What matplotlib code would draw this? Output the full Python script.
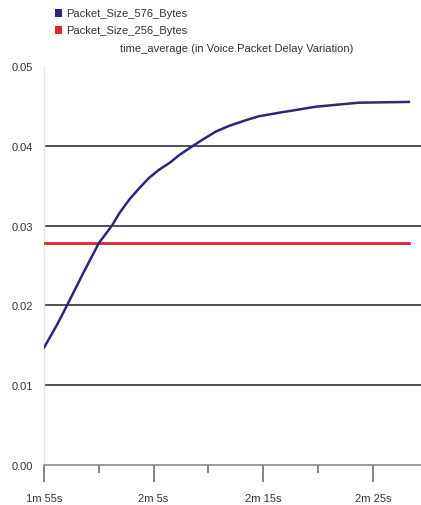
import matplotlib.pyplot as plt
from matplotlib.patches import Rectangle

# simulation time (s) and time-averaged packet delay variation
t_576 = [115.0, 116.2, 117.1, 118.6, 120.0, 121.2, 121.9, 122.8, 123.7, 124.6,
         125.5, 126.5, 127.4, 128.6, 129.5, 130.7, 131.9, 133.4, 134.6, 136.7,
         139.8, 143.7, 148.3]
pdv_576 = [0.0147, 0.0176, 0.0200, 0.0241, 0.0278, 0.0300, 0.0316, 0.0333, 0.0347, 0.0360,
           0.0370, 0.0379, 0.0389, 0.0400, 0.0408, 0.0418, 0.0425, 0.0432, 0.0437, 0.0442,
           0.0449, 0.0454, 0.0455]
t_256 = [115.0, 148.3]
pdv_256 = [0.0278, 0.0278]

series_names = ['Packet_Size_576_Bytes', 'Packet_Size_256_Bytes']
series_colors = ['#2b2878', '#e0262a']
stat_title = 'time_average (in Voice.Packet Delay Variation)'

x_major = [115, 125, 135, 145]
x_minor = [120, 130, 140]
x_labels = ['1m 55s', '2m 5s', '2m 15s', '2m 25s']
y_ticks = [0.00, 0.01, 0.02, 0.03, 0.04, 0.05]

plt.rcParams['font.family'] = ['Liberation Sans', 'DejaVu Sans']

fig = plt.figure(figsize=(4.21, 5.06), dpi=100)
ax = fig.add_axes([44 / 421, 40 / 506, 1 - 44 / 421, 399 / 506])

# horizontal grid lines
for y in y_ticks[1:-1]:
    ax.axhline(y, color='#4a5258', linewidth=1.4, zorder=1)

ax.plot(t_256, pdv_256, color=series_colors[1], linewidth=2.0, zorder=3)
ax.plot(t_576, pdv_576, color=series_colors[0], linewidth=1.8, zorder=4,
        solid_joinstyle='round')

ax.set_xlim(115, 149.4)
ax.set_ylim(0, 0.05)

ax.set_xticks(x_major)
ax.set_xticklabels(x_labels)
ax.set_xticks(x_minor, minor=True)
ax.set_yticks(y_ticks)
ax.set_yticklabels(['%.2f' % v for v in y_ticks])

ax.tick_params(axis='x', which='major', length=12, width=1.2, color='#707070',
               labelsize=8, labelcolor='#333333', pad=8)
ax.tick_params(axis='x', which='minor', length=6, width=1.2, color='#707070')
ax.tick_params(axis='y', length=0, labelsize=8, labelcolor='#333333', pad=8)

for side in ['top', 'right']:
    ax.spines[side].set_visible(False)
ax.spines['left'].set_color('#e6e6e6')
ax.spines['left'].set_linewidth(1.0)
ax.spines['bottom'].set_color('#8a8a8a')
ax.spines['bottom'].set_linewidth(1.2)

# legend block above the plot
for i, (name, col) in enumerate(zip(series_names, series_colors)):
    yy = 1 - (14 + 17 * i) / 506
    fig.patches.append(Rectangle((55 / 421, yy - 4 / 506), 7 / 421, 8 / 506,
                                 transform=fig.transFigure, facecolor=col,
                                 edgecolor='none'))
    fig.text(66 / 421, yy, name, fontsize=8, color='#333333', va='center', ha='left')

fig.text(237 / 421, 1 - 49 / 506, stat_title, fontsize=8, color='#333333',
         va='center', ha='center')

fig.savefig('out.png', dpi=100)
